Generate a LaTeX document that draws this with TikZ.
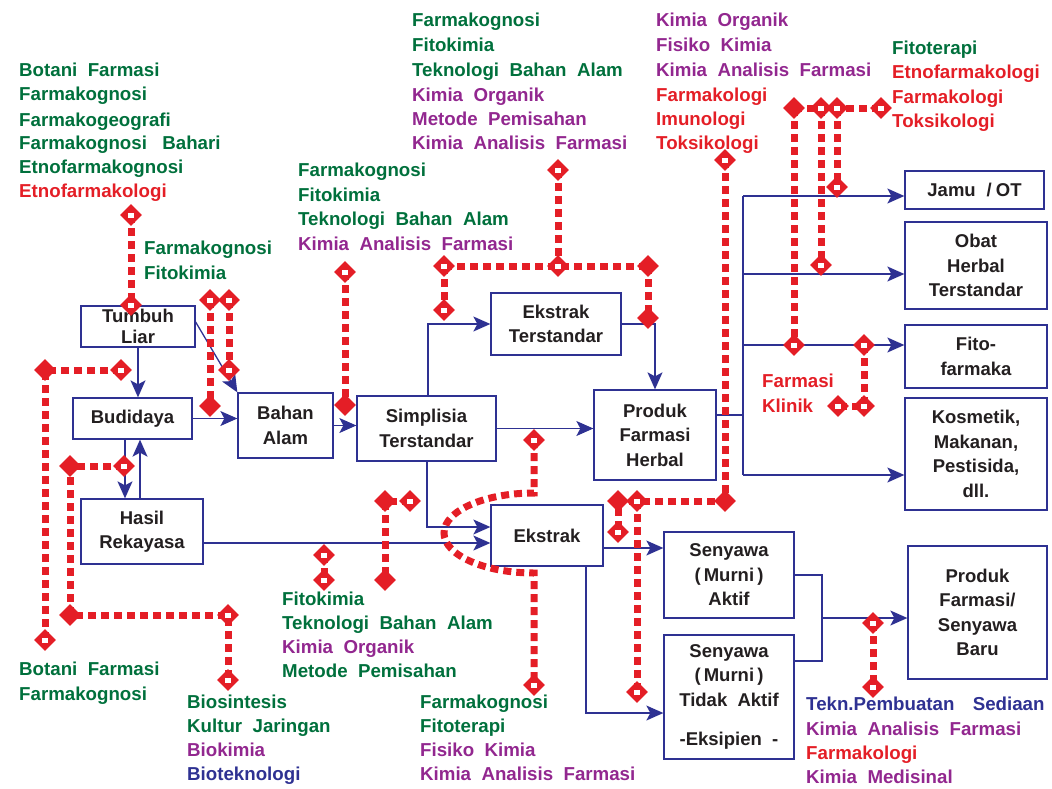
\documentclass[tikz,border=0pt]{standalone}
\usepackage{fontspec}
\setmainfont[WordSpace=2]{Liberation Sans}
\usetikzlibrary{arrows.meta,shapes.geometric,calc}
\definecolor{grn}{HTML}{00703C}
\definecolor{pur}{HTML}{92278F}
\definecolor{rd}{HTML}{E41E26}
\definecolor{blu}{HTML}{2E3192}
\definecolor{txt}{HTML}{231F20}
\newcommand\labfont{\fontsize{18.7}{24}\selectfont\bfseries}
\newcommand\boxfont{\fontsize{18.5}{24.5}\selectfont\bfseries}
\newcommand\lab[5]{\node[lab,text=#4] (#1) at (#2,#3+6.5) {#5};}
\begin{document}
\begin{tikzpicture}[x=1pt,y=-1pt,
 box/.style={draw=blu,line width=1.3pt,fill=white,inner sep=0pt,align=center,text=txt,font=\boxfont},
 lab/.style={anchor=base west,inner sep=0pt,font=\labfont},
 bl/.style={draw=blu,line width=1.3pt},
 barr/.style={bl,-{Stealth[length=17pt,width=15pt,inset=4pt]}},
 rdash/.style={draw=rd,line width=7pt,dash pattern=on 8pt off 5pt},
 dmd/.style={diamond,fill=rd,minimum width=22pt,minimum height=22pt,inner sep=0pt},
 dmdw/.style={dmd,path picture={\fill[white] ([xshift=-3pt,yshift=-2.5pt]path picture bounding box.center) rectangle ++(6pt,5pt);}}
]
\useasboundingbox (0,0) rectangle (1052,788);
% ---------- boxes
\node[box,minimum width=114pt,minimum height=41pt] (tl) at (138,326.5) {Tumbuh\\[-4pt]Liar};
\node[box,minimum width=119pt,minimum height=41pt] (bud) at (132.5,418.5) {Budidaya};
\node[box,minimum width=95pt,minimum height=65pt] (ba) at (285.5,425.5) {Bahan\\Alam};
\node[box,minimum width=122pt,minimum height=65pt] (hr) at (142,531.5) {Hasil\\Rekayasa};
\node[box,minimum width=139pt,minimum height=65pt] (st) at (426.5,428.5) {Simplisia\\Terstandar};
\node[box,minimum width=130pt,minimum height=62pt] (et) at (556,324) {Ekstrak\\Terstandar};
\node[box,minimum width=122pt,minimum height=90pt] (pfh) at (655,435) {Produk\\Farmasi\\Herbal};
\node[box,minimum width=112pt,minimum height=61pt] (ek) at (547,535.5) {Ekstrak};
\node[box,minimum width=130pt,minimum height=86pt] (sa) at (729,575) {Senyawa\\(\,Murni\,)\\Aktif};
\node[box,minimum width=130pt,minimum height=124pt] (sta) at (729,697) {Senyawa\\(\,Murni\,)\\Tidak Aktif\\[15pt]-Eksipien -};
\node[box,minimum width=139pt,minimum height=133pt] (pfb) at (977.5,612.5) {Produk\\Farmasi/\\Senyawa\\Baru};
\node[box,minimum width=139pt,minimum height=38pt] (jamu) at (974.5,190) {Jamu\hspace{11pt}/\hspace{4pt}OT};
\node[box,minimum width=142pt,minimum height=87pt] (oht) at (976,265.5) {Obat\\Herbal\\Terstandar};
\node[box,minimum width=142pt,minimum height=63pt] (ff) at (976,356.5) {Fito-\\farmaka};
\node[box,minimum width=142pt,minimum height=112pt] (kos) at (976,454) {Kosmetik,\\Makanan,\\Pestisida,\\dll.};
% ---------- blue connectors
\draw[barr] (tl.south) -- (tl.south |- bud.north);
\draw[barr] (tl.east |- 0,322) -- (ba.north west);
\draw[barr] (bud.east) -- (bud.east -| ba.west);
\draw[barr] (bud.south -| 125,0) -- (hr.north -| 125,0);
\draw[barr] (hr.north -| 140,0) -- (bud.south -| 140,0);
\draw[barr] (ba.east) -- (ba.east -| st.west);
\draw[barr] (st.north -| 428,0) |- (et.west);
\draw[barr] (et.east) -| (pfh.north);
\draw[barr] (st.east) -- (st.east -| pfh.west);
\draw[barr] (st.south -| 427,0) |- (ek.west |- 0,527);
\draw[barr] (hr.east |- 0,543) -- (ek.west |- 0,543);
\draw[barr] (ek.east |- 0,548) -- (sa.west |- 0,548);
\draw[barr] (ek.south -| 586,0) |- (sta.west |- 0,713);
\coordinate (jn) at (822,618);
\draw[bl] (sa.east) -| (jn);
\draw[bl] (sta.east |- 0,661) -| (jn);
\draw[barr] (jn) -- (jn -| pfb.west);
\coordinate (hb) at (743,415);
\coordinate (hbt) at (743,196);
\coordinate (hb2) at (743,274);
\coordinate (hb3) at (743,345);
\coordinate (hbb) at (743,475);
\draw[bl] (pfh.east |- hb) -- (hb);
\draw[bl] (hbt) -- (hbb);
\draw[barr] (hbt) -- (hbt -| jamu.west);
\draw[barr] (hb2) -- (hb2 -| oht.west);
\draw[barr] (hb3) -- (hb3 -| ff.west);
\draw[barr] (hbb) -- (hbb -| kos.west);
% ---------- red connector points
\coordinate (r1t) at (131,215); \coordinate (r1b) at (131,305);
\coordinate (r2a) at (210,300); \coordinate (r2b) at (229,300);
\coordinate (r2c) at (210,406); \coordinate (r2d) at (229,370);
\coordinate (r3a) at (345,272); \coordinate (r3b) at (345,405);
\coordinate (r4a) at (558,170); \coordinate (r4l) at (444,266);
\coordinate (r4m) at (558,266); \coordinate (r4r) at (648,266);
\coordinate (r4lb) at (444,310); \coordinate (r4rb) at (648,318);
\coordinate (r5a) at (725,160); \coordinate (r5b) at (725,501);
\coordinate (r5c) at (618,501); \coordinate (r5d) at (637,501);
\coordinate (r5e) at (618,532); \coordinate (r5f) at (637,692);
\coordinate (r6a) at (534,440); \coordinate (r6b) at (534,493);
\coordinate (r6c) at (534,685);
\coordinate (r7a) at (324,555); \coordinate (r7b) at (324,580);
\coordinate (r8a) at (385,501); \coordinate (r8b) at (410,501);
\coordinate (r8c) at (385,580);
\coordinate (r9a) at (45,370); \coordinate (r9b) at (121,370);
\coordinate (r9c) at (45,640);
\coordinate (r10a) at (70,466); \coordinate (r10b) at (124,466);
\coordinate (r10c) at (70,615); \coordinate (r10d) at (228,615);
\coordinate (r10e) at (228,680);
\coordinate (r11a) at (794,108); \coordinate (r11b) at (821,108);
\coordinate (r11c) at (837,108); \coordinate (r11d) at (881,108);
\coordinate (r11e) at (794,345); \coordinate (r11f) at (821,265);
\coordinate (r11g) at (837,187);
\coordinate (r12a) at (864,345); \coordinate (r12b) at (864,406);
\coordinate (r12c) at (838,406);
\coordinate (r13a) at (873,623); \coordinate (r13b) at (873,687);
% ---------- red dashed connectors
\draw[rdash] (r1t) -- (r1b);
\draw[rdash] (r2a) -- (r2c);
\draw[rdash] (r2b) -- (r2d);
\draw[rdash] (r3a) -- (r3b);
\draw[rdash] (r4a) -- (r4m);
\draw[rdash] (r4l) -- (r4r);
\draw[rdash] (r4l) -- (r4lb);
\draw[rdash] (r4r) -- (r4rb);
\draw[rdash] (r5a) -- (r5b) -- (r5c) -- (r5e);
\draw[rdash] (r5d) -- (r5f);
\draw[rdash] (r6a) -- (r6b) arc[start angle=90,end angle=270,x radius=90pt,y radius=40pt] -- (r6c);
\draw[rdash] (r7a) -- (r7b);
\draw[rdash] (r8b) -- (r8a) -- (r8c);
\draw[rdash] (r9b) -- (r9a) -- (r9c);
\draw[rdash] (r10b) -- (r10a) -- (r10c) -- (r10d) -- (r10e);
\draw[rdash] (r11a) -- (r11d);
\draw[rdash] (r11a) -- (r11e);
\draw[rdash] (r11b) -- (r11f);
\draw[rdash] (r11c) -- (r11g);
\draw[rdash] (r12a) -- (r12b) -- (r12c);
\draw[rdash] (r13a) -- (r13b);
% ---------- diamonds
\foreach \c in {r2c,r3b,r4r,r4rb,r5b,r5c,r8a,r8c,r9a,r10a,r10c,r11a}
  \node[dmd] (d\c) at (\c) {};
\foreach \c in {r1t,r1b,r2a,r2b,r2d,r3a,r4a,r4l,r4m,r4lb,r5a,r5d,r5e,r5f,r6a,r6c,r7a,r7b,r8b,r9b,r9c,r10b,r10d,r10e,r11b,r11c,r11d,r11e,r11f,r11g,r12a,r12b,r12c,r13a,r13b}
  \node[dmdw] (d\c) at (\c) {};
% ---------- labels
\lab{a1}{19}{70}{grn}{Botani Farmasi}
\lab{a2}{19}{94}{grn}{Farmakognosi}
\lab{a3}{19}{120}{grn}{Farmakogeografi}
\lab{a4}{19}{143}{grn}{Farmakognosi\hspace{5pt} Bahari}
\lab{a5}{19}{167}{grn}{Etnofarmakognosi}
\lab{a6}{19}{191}{rd}{Etnofarmakologi}
\lab{b1}{144}{248}{grn}{Farmakognosi}
\lab{b2}{144}{273}{grn}{Fitokimia}
\lab{c1}{298}{170}{grn}{Farmakognosi}
\lab{c2}{298}{195}{grn}{Fitokimia}
\lab{c3}{298}{219}{grn}{Teknologi Bahan Alam}
\lab{c4}{298}{244}{pur}{Kimia Analisis Farmasi}
\lab{d1}{412}{20}{grn}{Farmakognosi}
\lab{d2}{412}{45}{grn}{Fitokimia}
\lab{d3}{412}{70}{grn}{Teknologi Bahan Alam}
\lab{d4}{412}{95}{pur}{Kimia Organik}
\lab{d5}{412}{119}{pur}{Metode Pemisahan}
\lab{d6}{412}{143}{pur}{Kimia Analisis Farmasi}
\lab{e1}{656}{20}{pur}{Kimia Organik}
\lab{e2}{656}{45}{pur}{Fisiko Kimia}
\lab{e3}{656}{70}{pur}{Kimia Analisis Farmasi}
\lab{e4}{656}{95}{rd}{Farmakologi}
\lab{e5}{656}{119}{rd}{Imunologi}
\lab{e6}{656}{143}{rd}{Toksikologi}
\lab{f1}{892}{48}{grn}{Fitoterapi}
\lab{f2}{892}{72}{rd}{Etnofarmakologi}
\lab{f3}{892}{97}{rd}{Farmakologi}
\lab{f4}{892}{121}{rd}{Toksikologi}
\lab{g1}{762}{381}{rd}{Farmasi}
\lab{g2}{762}{406}{rd}{Klinik}
\lab{h1}{282}{599}{grn}{Fitokimia}
\lab{h2}{282}{623}{grn}{Teknologi Bahan Alam}
\lab{h3}{282}{647}{pur}{Kimia Organik}
\lab{h4}{282}{671}{grn}{Metode Pemisahan}
\lab{i1}{19}{669}{grn}{Botani Farmasi}
\lab{i2}{19}{694}{grn}{Farmakognosi}
\lab{j1}{187}{702}{grn}{Biosintesis}
\lab{j2}{187}{726}{grn}{Kultur Jaringan}
\lab{j3}{187}{750}{pur}{Biokimia}
\lab{j4}{187}{774}{blu}{Bioteknologi}
\lab{k1}{420}{702}{grn}{Farmakognosi}
\lab{k2}{420}{726}{grn}{Fitoterapi}
\lab{k3}{420}{750}{pur}{Fisiko Kimia}
\lab{k4}{420}{774}{pur}{Kimia Analisis Farmasi}
\lab{l1}{806}{704}{blu}{Tekn.Pembuatan\hspace{8pt} Sediaan}
\lab{l2}{806}{729}{pur}{Kimia Analisis Farmasi}
\lab{l3}{806}{753}{rd}{Farmakologi}
\lab{l4}{806}{777}{pur}{Kimia Medisinal}
\end{tikzpicture}
\end{document}
